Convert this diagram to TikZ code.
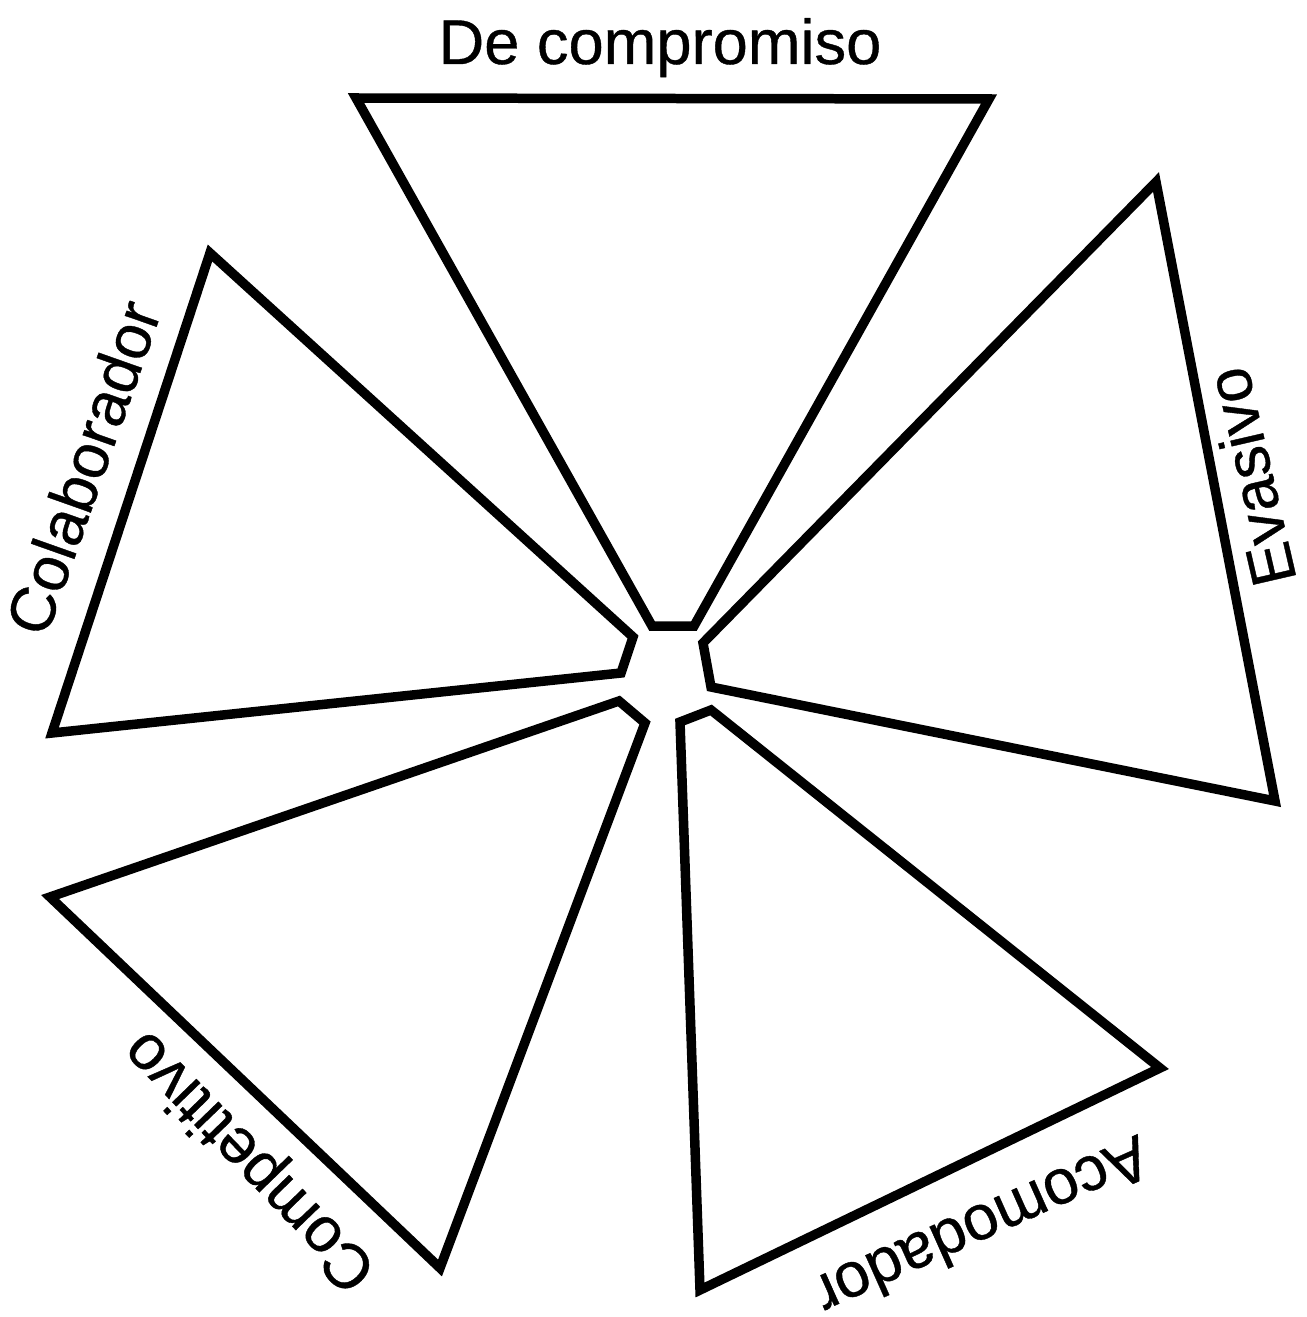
\documentclass[tikz,border=0pt]{standalone}
\usepackage{fontspec}
\setmainfont{Liberation Sans}
\newfontfamily\lblfont{Liberation Sans}[FakeBold=0.6]
\begin{document}
\begin{tikzpicture}[x=0.02cm,y=-0.02cm,
  blade/.style={draw=black,line width=0.19cm,line join=miter},
  lbl/.style={font=\lblfont\fontsize{36}{40}\selectfont,inner sep=0pt,anchor=base}]
\useasboundingbox (0,0) rectangle (1306,1317);
% blades
\draw[blade] (356,98) -- (989,99) -- (694,626) -- (652,626) -- cycle;
\draw[blade] (1156,182) -- (1275,801) -- (711,687) -- (703,643) -- cycle;
\draw[blade] (210,253) -- (52,733) -- (621,673) -- (633,637) -- cycle;
\draw[blade] (50,897) -- (619,701) -- (645,723) -- (440,1268) -- cycle;
\draw[blade] (680,722) -- (711,710) -- (1160,1068) -- (700,1290) -- cycle;
% labels
\node[lbl] (tcomp) at (660,64) {De compromiso};
\node[lbl,rotate=103] (teva) at (1272,472) {Evasivo};
\node[lbl,rotate=70.5] (tcol) at (104,475) {Colaborador};
\node[lbl,rotate=134] (tcom) at (263,1148) {Competitivo};
\node[lbl,rotate=204] (taco) at (974,1207) {Acomodador};
\end{tikzpicture}
\end{document}
